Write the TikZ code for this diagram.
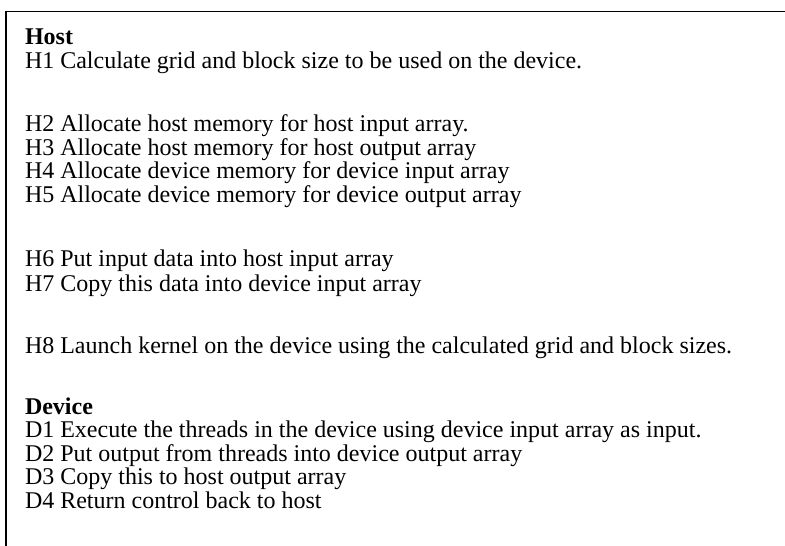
\documentclass[tikz,border=0pt]{standalone}
\usepackage{fontspec}
\setmainfont{Liberation Serif}
\begin{document}
\begin{tikzpicture}[x=1pt,y=-1pt,
  txt/.style={anchor=base west,inner sep=0pt,outer sep=0pt,font=\fontsize{24}{27}\selectfont},
  hdr/.style={txt,font=\fontsize{24}{27}\selectfont\bfseries},
  frame/.style={draw=black,line width=1.5pt}]
\useasboundingbox (0,0) rectangle (785,546);
\coordinate (tr) at (785,11.7);
\coordinate (tl) at (6,11.7);
\coordinate (bl) at (6,546);
\draw[frame] (tr) -- (tl) -- (bl);
\node[hdr] (host) at (25,45) {Host};
\node[txt] (h1) at (25,68.5) {H1 Calculate grid and block size to be used on the device.};
\node[txt] (h2) at (25,131) {H2 Allocate host memory for host input array.};
\node[txt] (h3) at (25,155) {H3 Allocate host memory for host output array};
\node[txt] (h4) at (25,178.5) {H4 Allocate device memory for device input array};
\node[txt] (h5) at (25,202) {H5 Allocate device memory for device output array};
\node[txt] (h6) at (25,266) {H6 Put input data into host input array};
\node[txt] (h7) at (25,291) {H7 Copy this data into device input array};
\node[txt] (h8) at (25,353) {H8 Launch kernel on the device using the calculated grid and block sizes.};
\node[hdr] (dev) at (25,414) {Device};
\node[txt] (d1) at (25,437) {D1 Execute the threads in the device using device input array as input.};
\node[txt] (d2) at (25,461) {D2 Put output from threads into device output array};
\node[txt] (d3) at (25,484.5) {D3 Copy this to host output array};
\node[txt] (d4) at (25,508) {D4 Return control back to host};
\end{tikzpicture}
\end{document}
